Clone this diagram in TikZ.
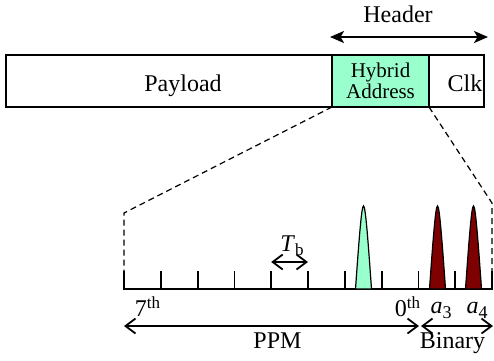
\documentclass[tikz,border=0pt]{standalone}
\usepackage{fontspec}
\setmainfont{Liberation Serif}
\usetikzlibrary{arrows.meta}
\definecolor{pulsegreen}{HTML}{99FFCC}
\definecolor{pulsered}{HTML}{7F0000}
\newcommand\mysup[1]{\raisebox{8pt}{\fontsize{17}{17}\selectfont #1}}
\newcommand\mysub[1]{\raisebox{-5pt}{\fontsize{18}{18}\selectfont #1}}
\begin{document}
\begin{tikzpicture}[x=1pt,y=-1pt,
  box/.style={draw, line width=2pt, minimum height=52pt, inner sep=0pt, outer sep=0pt, anchor=north west},
  lbl/.style={font=\fontsize{24}{26}\selectfont, inner sep=0pt, anchor=base},
  hdrarrow/.style={line width=2pt, {Stealth[length=14pt,width=12pt,inset=3.5pt]}-{Stealth[length=14pt,width=12pt,inset=3.5pt]}},
  spanarrow/.style={line width=1.8pt, {Straight Barb[length=10pt,width=15pt]}-{Straight Barb[length=10pt,width=15pt]}},
  zoomline/.style={dashed, line width=1.2pt, dash pattern=on 6pt off 4pt},
  tickline/.style={line width=1.8pt},
  pulseline/.style={line width=1.2pt}
]
\useasboundingbox (0,0) rectangle (494,360);

% top bar
\node[box, minimum width=326pt] (payload) at (6,55) {};
\node[box, minimum width=55pt] (clk) at (429,55) {};
\node[box, minimum width=97pt, fill=pulsegreen, align=center,
      font=\fontsize{21}{21}\selectfont] (hybrid) at (332,55) {Hybrid\\Address};
\node[lbl] (payloadtxt) at (183,91.5) {Payload};
\node[lbl] (clktxt) at (465,91.5) {Clk};

% header
\node[lbl] (header) at (398,22.5) {Header};
\coordinate (hL) at (330,37);
\coordinate (hR) at (488,37);
\draw[hdrarrow] (hL) -- (hR);

% zoom lines
\coordinate (zl1) at (124,213);
\coordinate (zl2) at (124,271);
\coordinate (zr1) at (492,203);
\coordinate (zr2) at (492,271);
\draw[zoomline] (hybrid.south west) -- (zl1) -- (zl2);
\draw[zoomline] (hybrid.south east) -- (zr1) -- (zr2);

% time axis
\coordinate (axL) at (124,289);
\coordinate (axR) at (492,289);
\draw[tickline] (axL) -- (axR);
\foreach \i in {0,...,10}
  \draw[tickline] ({124+\i*36.8},290) -- ++(0,-19);

% pulses
\foreach \c/\col in {363.5/pulsegreen, 437.5/pulsered, 473.5/pulsered}
  \filldraw[pulseline, fill=\col, shift={(\c,0)}]
    (-8,289) .. controls (-4.5,240) and (-2,206) .. (0,206)
    .. controls (2,206) and (4.5,240) .. (8,289) -- cycle;

% Tb
\node[lbl] (tb) at (292,251) {\textit{T}\raisebox{-4pt}{\fontsize{17}{17}\selectfont b}};
\coordinate (tbL) at (271.2,262);
\coordinate (tbR) at (308,262);
\draw[spanarrow] (tbL) -- (tbR);

% slot labels
\node[lbl] (l7) at (147.5,316) {7\mysup{th}};
\node[lbl] (l0) at (407.5,316) {0\mysup{th}};
\node[lbl] (la3) at (441,313) {\textit{a}\mysub{3}};
\node[lbl] (la4) at (477,313) {\textit{a}\mysub{4}};

% PPM / Binary
\coordinate (pL) at (124,326);
\coordinate (pR) at (419,326);
\coordinate (bL) at (421,326);
\coordinate (bR) at (493,326);
\draw[spanarrow] (pL) -- (pR);
\draw[spanarrow] (bL) -- (bR);
\node[lbl] (ppm) at (277.5,348) {PPM};
\node[lbl] (binary) at (452.5,348) {Binary};
\end{tikzpicture}
\end{document}
